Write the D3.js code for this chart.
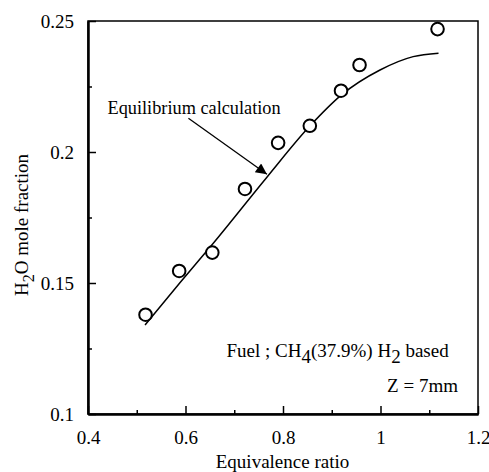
<!DOCTYPE html>
<html>
<head>
<meta charset="utf-8">
<script src="https://cdn.jsdelivr.net/npm/d3@7"></script>
<style>
  html, body { margin: 0; padding: 0; background: #fff; }
  svg { display: block; }
  text { font-family: "Liberation Serif", "Times New Roman", serif; fill: #000; }
</style>
</head>
<body>
<svg id="chart" width="489" height="472"></svg>
<script>
// Measured H2O mole fraction versus equivalence ratio
const measuredPhi = [0.518, 0.587, 0.655, 0.722, 0.790, 0.855, 0.919, 0.957, 1.117];
const measuredH2O = [0.1379, 0.1546, 0.1616, 0.1859, 0.2035, 0.2100, 0.2234, 0.2332, 0.2469];

// Equilibrium calculation curve
const eqPhi = [0.517, 0.589, 0.657, 0.767, 0.855, 0.920, 0.999, 1.067, 1.119];
const eqH2O = [0.1340, 0.1502, 0.1652, 0.1904, 0.2099, 0.2218, 0.2313, 0.2364, 0.2377];

// Axis ticks
const xTicks = [0.4, 0.6, 0.8, 1.0, 1.2];
const xTickLabels = ["0.4", "0.6", "0.8", "1", "1.2"];
const xMinorTicks = [0.5, 0.7, 0.9, 1.1];
const yTicks = [0.1, 0.15, 0.2, 0.25];
const yTickLabels = ["0.1", "0.15", "0.2", "0.25"];
const yMinorTicks = [0.125, 0.175, 0.225];

// Annotation arrow: from the label down to the curve
const arrowFrom = [0.606, 0.2129];
const arrowTo = [0.767, 0.1915];

const FS = 19;
const svg = d3.select("#chart");
const x = d3.scaleLinear().domain([0.4, 1.2]).range([88, 478]);
const y = d3.scaleLinear().domain([0.1, 0.25]).range([414, 21]);

// Frame (top and right)
svg.append("rect")
  .attr("x", x(0.4)).attr("y", y(0.25))
  .attr("width", x(1.2) - x(0.4)).attr("height", y(0.1) - y(0.25))
  .attr("fill", "none").attr("stroke", "#000").attr("stroke-width", 1.5);

// Axes
const xAxis = svg.append("g").attr("transform", `translate(0,${y(0.1)})`)
  .call(d3.axisBottom(x).tickValues(xTicks)
    .tickFormat((d, i) => xTickLabels[i])
    .tickSizeInner(-8).tickSizeOuter(0).tickPadding(16.5));
const xMinor = svg.append("g").attr("transform", `translate(0,${y(0.1)})`)
  .call(d3.axisBottom(x).tickValues(xMinorTicks).tickFormat("")
    .tickSizeInner(-4).tickSizeOuter(0));
const yAxis = svg.append("g").attr("transform", `translate(${x(0.4)},0)`)
  .call(d3.axisLeft(y).tickValues(yTicks)
    .tickFormat((d, i) => yTickLabels[i])
    .tickSizeInner(-8).tickSizeOuter(0).tickPadding(14));
const yMinor = svg.append("g").attr("transform", `translate(${x(0.4)},0)`)
  .call(d3.axisLeft(y).tickValues(yMinorTicks).tickFormat("")
    .tickSizeInner(-4).tickSizeOuter(0));

[xAxis, xMinor, yAxis, yMinor].forEach(g => {
  g.select(".domain").attr("stroke", "#000").attr("stroke-width", 2);
  g.selectAll(".tick line").attr("stroke", "#000").attr("stroke-width", 1.5);
  g.selectAll("text").attr("font-family", '"Liberation Serif", serif')
    .attr("font-size", FS).attr("fill", "#000");
});

// Axis titles
svg.append("text")
  .attr("x", (x(0.4) + x(1.2)) / 2 - 0.5).attr("y", 468)
  .attr("text-anchor", "middle").attr("font-size", FS)
  .text("Equivalence ratio");

const yTitle = svg.append("text")
  .attr("transform", "translate(28,225) rotate(-90)")
  .attr("text-anchor", "middle").attr("font-size", FS);
yTitle.append("tspan").text("H");
yTitle.append("tspan").attr("dy", 6).attr("font-size", FS * 0.85).text("2");
yTitle.append("tspan").attr("dy", -6).text("O mole fraction");

// Equilibrium curve
const line = d3.line()
  .x(d => x(d[0])).y(d => y(d[1]))
  .curve(d3.curveMonotoneX);
svg.append("path")
  .datum(eqPhi.map((p, i) => [p, eqH2O[i]]))
  .attr("d", line)
  .attr("fill", "none").attr("stroke", "#000").attr("stroke-width", 1.5);

// Measured points
svg.append("g").selectAll("circle")
  .data(measuredPhi.map((p, i) => [p, measuredH2O[i]]))
  .join("circle")
  .attr("cx", d => x(d[0])).attr("cy", d => y(d[1]))
  .attr("r", 6.3)
  .attr("fill", "#fff").attr("stroke", "#000").attr("stroke-width", 2);

// Annotation
svg.append("defs").append("marker")
  .attr("id", "arrowhead").attr("viewBox", "0 0 10 10")
  .attr("refX", 10).attr("refY", 5)
  .attr("markerWidth", 14).attr("markerHeight", 11)
  .attr("markerUnits", "userSpaceOnUse")
  .attr("orient", "auto")
  .append("path").attr("d", "M0,0 L10,5 L0,10 Z").attr("fill", "#000");

svg.append("line")
  .attr("x1", x(arrowFrom[0])).attr("y1", y(arrowFrom[1]))
  .attr("x2", x(arrowTo[0])).attr("y2", y(arrowTo[1]))
  .attr("stroke", "#000").attr("stroke-width", 1.3)
  .attr("marker-end", "url(#arrowhead)");

svg.append("text")
  .attr("x", 107.5).attr("y", 114).attr("font-size", 18.3)
  .text("Equilibrium calculation");

const fuel = svg.append("text")
  .attr("x", 226.5).attr("y", 357).attr("font-size", FS);
fuel.append("tspan").text("Fuel ; CH");
fuel.append("tspan").attr("dy", 6).text("4");
fuel.append("tspan").attr("dy", -6).text("(37.9%) H");
fuel.append("tspan").attr("dy", 6).text("2");
fuel.append("tspan").attr("dy", -6).text(" based");

svg.append("text")
  .attr("x", 458).attr("y", 392).attr("text-anchor", "end").attr("font-size", FS)
  .text("Z = 7mm");
</script>
</body>
</html>
